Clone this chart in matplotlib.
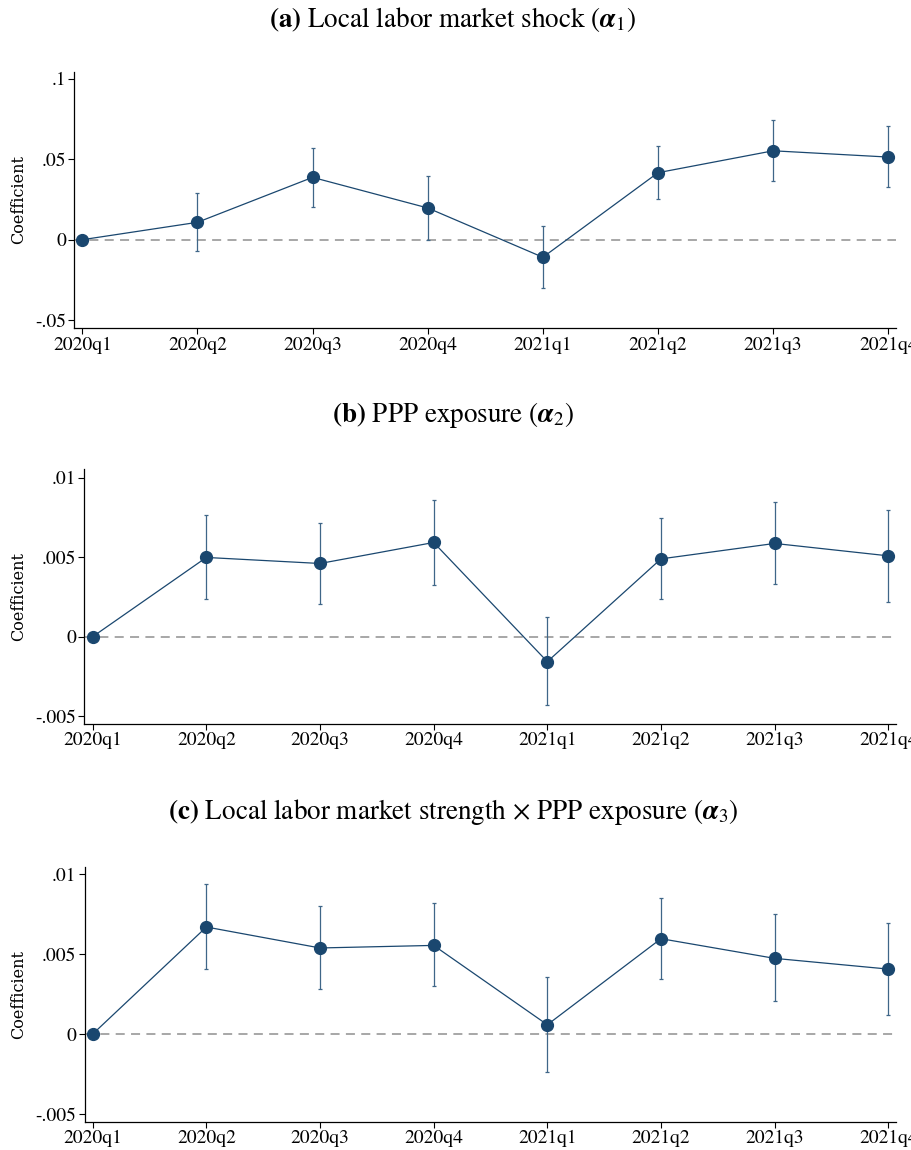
import matplotlib
matplotlib.use("Agg")
import matplotlib.pyplot as plt
import numpy as np

quarters = ["2020q1", "2020q2", "2020q3", "2020q4", "2021q1", "2021q2", "2021q3", "2021q4"]

coef_a = [0.0, 0.0108, 0.0387, 0.0197, -0.0109, 0.0416, 0.0552, 0.0513]
hi_a   = [0.0, 0.0288, 0.0569, 0.0394, 0.0083, 0.0582, 0.0741, 0.0704]
lo_a   = [0.0, -0.0070, 0.0205, 0.0000, -0.0298, 0.0251, 0.0364, 0.0327]

coef_b = [0.0, 0.00498, 0.00460, 0.00592, -0.00157, 0.00489, 0.00586, 0.00508]
hi_b   = [0.0, 0.00763, 0.00717, 0.00857, 0.00122, 0.00746, 0.00849, 0.00799]
lo_b   = [0.0, 0.00236, 0.00205, 0.00326, -0.00430, 0.00234, 0.00328, 0.00220]

coef_c = [0.0, 0.00669, 0.00538, 0.00554, 0.00058, 0.00596, 0.00473, 0.00406]
hi_c   = [0.0, 0.00936, 0.00798, 0.00817, 0.00354, 0.00850, 0.00748, 0.00696]
lo_c   = [0.0, 0.00404, 0.00281, 0.00298, -0.00240, 0.00344, 0.00208, 0.00119]

yticks_a = [-0.05, 0.0, 0.05, 0.1]
yticklabels_a = ["-.05", "0", ".05", ".1"]
yticks_bc = [-0.005, 0.0, 0.005, 0.01]
yticklabels_bc = ["-.005", "0", ".005", ".01"]

titles = [
    r"$\mathbf{(a)}$ Local labor market shock ($\mathbfit{\alpha}_1$)",
    r"$\mathbf{(b)}$ PPP exposure ($\mathbfit{\alpha}_2$)",
    r"$\mathbf{(c)}$ Local labor market strength $\times$ PPP exposure ($\mathbfit{\alpha}_3$)",
]

plt.rcParams["mathtext.fontset"] = "stix"
plt.rcParams["font.family"] = ["STIXGeneral", "DejaVu Serif"]

W, H = 911, 1150
fig = plt.figure(figsize=(W / 100, H / 100), dpi=100)

navy = "#1a476f"

panels = [
    dict(coef=coef_a, hi=hi_a, lo=lo_a, yt=yticks_a, ytl=yticklabels_a,
         ylim=(-0.055, 0.1043), box=(74.3, 896, 71.7, 328.3), title_y=19),
    dict(coef=coef_b, hi=hi_b, lo=lo_b, yt=yticks_bc, ytl=yticklabels_bc,
         ylim=(-0.00547, 0.01052), box=(84.3, 896, 469.3, 723.7), title_y=415),
    dict(coef=coef_c, hi=hi_c, lo=lo_c, yt=yticks_bc, ytl=yticklabels_bc,
         ylim=(-0.00548, 0.01046), box=(84.8, 896, 866.7, 1121.7), title_y=812),
]

x = np.arange(len(quarters))
for i, p in enumerate(panels):
    l, r, t, b = p["box"]
    ax = fig.add_axes([l / W, 1 - b / H, (r - l) / W, (b - t) / H])
    coef = np.array(p["coef"])
    hi = np.array(p["hi"])
    lo = np.array(p["lo"])
    ax.axhline(0, color="#a0a0a0", lw=1.3, ls=(0, (5, 3.5)), zorder=1)
    ax.errorbar(x[1:], coef[1:], yerr=[coef[1:] - lo[1:], hi[1:] - coef[1:]],
                fmt="none", ecolor="#3f6688", elinewidth=0.9, capsize=1.6,
                capthick=0.9, zorder=2)
    ax.plot(x, coef, color=navy, lw=0.9, marker="o", ms=8.5,
            mfc=navy, mec=navy, zorder=3)
    first_tick = 82.3 if i == 0 else 92.7
    last_tick = 888.3
    sp = (last_tick - first_tick) / 7
    ax.set_xlim(-(first_tick - l) / sp, 7 + (r - last_tick) / sp)
    ax.set_ylim(*p["ylim"])
    ax.set_xticks(x)
    ax.set_xticklabels(quarters)
    ax.set_yticks(p["yt"])
    ax.set_yticklabels(p["ytl"])
    for s in ["top", "right"]:
        ax.spines[s].set_visible(False)
    for s in ["left", "bottom"]:
        ax.spines[s].set_linewidth(0.9)
    ax.tick_params(axis="both", length=4, width=0.8, labelsize=14, pad=2)
    for lab in ax.get_xticklabels():
        lab.set_clip_on(False)
    ax.set_ylabel("Coefficient", family="DejaVu Serif", fontsize=11.5)
    ax.yaxis.set_label_coords(-(l - 27) / (r - l), 0.5)
    fig.text(453 / W, 1 - p["title_y"] / H, titles[i], ha="center", va="center",
             fontsize=19.5)

fig.savefig("out.png", dpi=100)
